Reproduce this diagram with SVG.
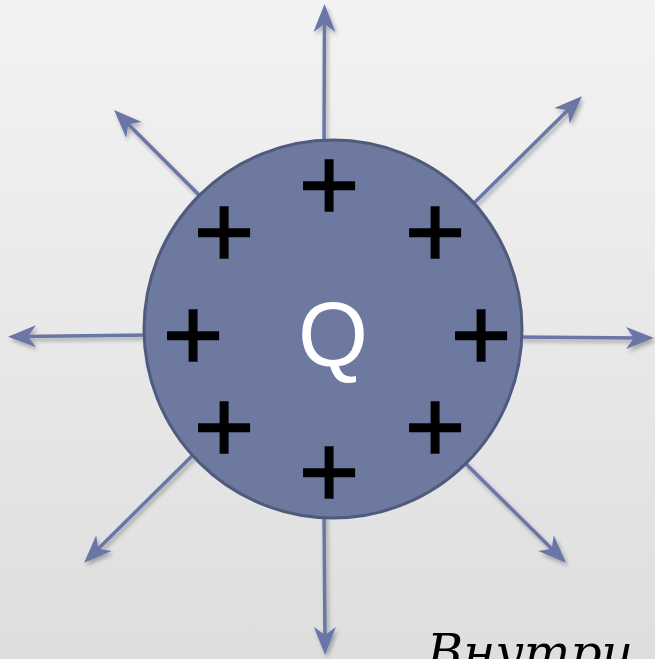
<svg xmlns="http://www.w3.org/2000/svg" width="655" height="659" viewBox="0 0 655 659">
<defs>
<linearGradient id="bg" x1="0" y1="0" x2="0" y2="1">
<stop offset="0" stop-color="#f3f3f3"/>
<stop offset="1" stop-color="#dedede"/>
</linearGradient>
<filter id="sh" x="-20%" y="-20%" width="140%" height="140%">
<feGaussianBlur in="SourceAlpha" stdDeviation="2"/>
<feOffset dx="2" dy="3" result="b"/>
<feComponentTransfer><feFuncA type="linear" slope="0.3"/></feComponentTransfer>
<feMerge><feMergeNode/><feMergeNode in="SourceGraphic"/></feMerge>
</filter>
<marker id="ah" viewBox="-16 -13 32 26" refX="0" refY="0" markerWidth="32" markerHeight="26" markerUnits="userSpaceOnUse" orient="auto">
<path d="M14,0 L-14,-11 L-6,0 L-14,11 Z" fill="#6a76a6"/>
</marker>
</defs>
<style>
.ar{stroke:#6a76a6;stroke-width:3.5;fill:none;marker-end:url(#ah)}
.pl{font-family:"Liberation Sans",Arial,sans-serif;font-size:104px;fill:#000;stroke:#000;stroke-width:1.5;text-anchor:middle}
.q{font-family:"Liberation Sans",Arial,sans-serif;font-size:90px;fill:#ffffff;text-anchor:middle}
.cap{font-family:"DejaVu Serif",serif;font-style:italic;font-size:49px;fill:#000}
</style>
<rect width="655" height="659" fill="url(#bg)"/>
<g id="connectors" filter="url(#sh)">
<line class="ar" x1="324" y1="150" x2="324.5" y2="18"/>
<line class="ar" x1="204" y1="200" x2="124" y2="120"/>
<line class="ar" x1="470" y1="207" x2="572" y2="106"/>
<line class="ar" x1="150" y1="335" x2="22" y2="336.5"/>
<line class="ar" x1="515" y1="337" x2="640" y2="338"/>
<line class="ar" x1="196" y1="452" x2="94" y2="553"/>
<line class="ar" x1="460" y1="458" x2="556" y2="553"/>
<line class="ar" x1="324" y1="510" x2="325" y2="641"/>
</g>
<g id="sphere">
<circle cx="333" cy="329" r="189" fill="#6d799f" stroke="#4f5a7c" stroke-width="3"/>
<text class="q" x="333" y="366">Q</text>
</g>
<g id="charges">
<text class="pl" x="329" y="220">+</text>
<text class="pl" x="224" y="267">+</text>
<text class="pl" x="435" y="267">+</text>
<text class="pl" x="193" y="370">+</text>
<text class="pl" x="481" y="370">+</text>
<text class="pl" x="224" y="462">+</text>
<text class="pl" x="435" y="462">+</text>
<text class="pl" x="329" y="507">+</text>
</g>
<text id="caption" class="cap" x="427" y="669">Внутри</text>
</svg>
